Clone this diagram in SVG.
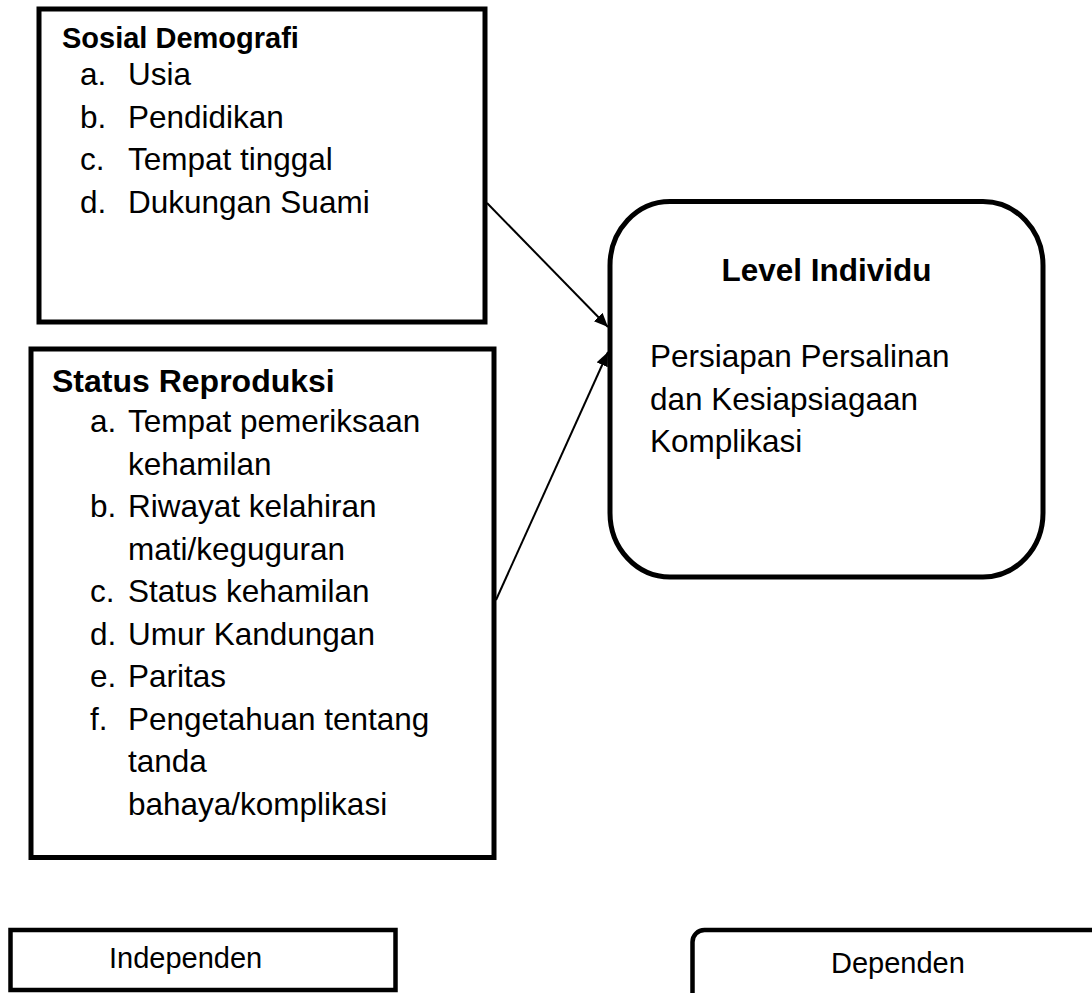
<svg xmlns="http://www.w3.org/2000/svg" width="1092" height="993" viewBox="0 0 1092 993">
<style>
.box{fill:#fff;stroke:#000;stroke-width:5}
.t{font-family:"Liberation Sans",Arial,sans-serif;font-size:31.5px;fill:#000}
.b{font-weight:bold}
.c{stroke:#000;stroke-width:2;fill:none}
</style>
<defs>
<marker id="ah" markerUnits="userSpaceOnUse" markerWidth="16" markerHeight="14" refX="14" refY="6" orient="auto">
<path d="M0,0 L14,6 L0,12 Z" fill="#000"/>
</marker>
</defs>
<rect width="1092" height="993" fill="#fff"/>
<g id="sosial">
<rect class="box" x="39" y="9" width="446" height="313"/>
<text class="t b" x="62" y="48" style="font-size:29px">Sosial Demografi</text>
<text class="t" x="80" y="85">a.</text><text class="t" x="128" y="85">Usia</text>
<text class="t" x="80" y="127.5">b.</text><text class="t" x="128" y="127.5">Pendidikan</text>
<text class="t" x="80" y="170">c.</text><text class="t" x="128" y="170">Tempat tinggal</text>
<text class="t" x="80" y="212.5">d.</text><text class="t" x="128" y="212.5">Dukungan Suami</text>
</g>
<g id="reproduksi">
<rect class="box" x="31" y="349" width="463" height="508.5"/>
<text class="t b" x="52" y="392" style="font-size:32px">Status Reproduksi</text>
<text class="t" x="90" y="432">a.</text><text class="t" x="128" y="432">Tempat pemeriksaan</text>
<text class="t" x="128" y="474.5">kehamilan</text>
<text class="t" x="90" y="517">b.</text><text class="t" x="128" y="517">Riwayat kelahiran</text>
<text class="t" x="128" y="559.5">mati/keguguran</text>
<text class="t" x="90" y="602">c.</text><text class="t" x="128" y="602">Status kehamilan</text>
<text class="t" x="90" y="644.5">d.</text><text class="t" x="128" y="644.5">Umur Kandungan</text>
<text class="t" x="90" y="687">e.</text><text class="t" x="128" y="687">Paritas</text>
<text class="t" x="90" y="729.5">f.</text><text class="t" x="128" y="729.5">Pengetahuan tentang</text>
<text class="t" x="128" y="772">tanda</text>
<text class="t" x="128" y="814.5">bahaya/komplikasi</text>
</g>
<g id="level">
<rect class="box" x="610" y="201.5" width="433" height="375.5" rx="60" ry="64"/>
<text class="t b" x="826.5" y="281" text-anchor="middle">Level Individu</text>
<text class="t" x="650" y="367">Persiapan Persalinan</text>
<text class="t" x="650" y="410">dan Kesiapsiagaan</text>
<text class="t" x="650" y="452">Komplikasi</text>
</g>
<g id="independen">
<rect class="box" x="10.5" y="930" width="385" height="60" style="stroke-width:4.5"/>
<text class="t" x="109" y="968" style="font-size:29px">Independen</text>
</g>
<g id="dependen">
<rect class="box" x="692.5" y="930" width="420" height="80" rx="12" ry="12" style="stroke-width:4.5"/>
<text class="t" x="831" y="972.5" style="font-size:29px">Dependen</text>
</g>
<g id="connectors">
<line class="c" x1="487" y1="203" x2="608" y2="327" marker-end="url(#ah)"/>
<line class="c" x1="496" y1="600" x2="608" y2="352" marker-end="url(#ah)"/>
</g>
</svg>
